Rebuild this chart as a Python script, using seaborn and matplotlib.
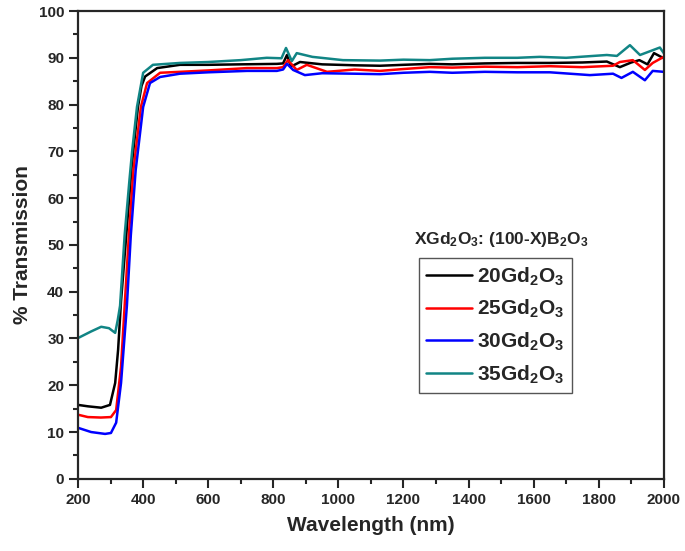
import numpy as np
import pandas as pd
import matplotlib
matplotlib.use("Agg")
import matplotlib.pyplot as plt
import seaborn as sns
from matplotlib.ticker import MultipleLocator

# sample names and colours
labels = ['20Gd$_2$O$_3$', '25Gd$_2$O$_3$', '30Gd$_2$O$_3$', '35Gd$_2$O$_3$']
colors = ['#000000', '#ff0000', '#0000ff', '#118585']

# transmission spectra (wavelength nm, % T)
wl_20 = [200, 230, 271, 298, 314, 323, 332, 348, 365, 384, 395, 406, 443, 513, 600, 700, 811, 830, 842, 854,
         882, 950, 1050, 1128, 1200, 1281, 1350, 1450, 1550, 1650, 1750, 1825, 1865, 1900, 1925, 1950, 1970, 2000]
t_20 = [15.8, 15.5, 15.2, 15.8, 20.5, 27.6, 38, 52, 67, 79.5, 84, 86, 87.8, 88.5, 88.5, 88.6, 88.7, 88.8, 90.6, 88.1,
        89.1, 88.6, 88.4, 88.3, 88.5, 88.7, 88.6, 88.8, 88.9, 88.9, 89.0, 89.2, 88.0, 89.0, 89.5, 88.6, 91.0, 89.9]

wl_25 = [200, 230, 270, 301, 317, 332, 344, 356, 370, 393, 412, 452, 513, 600, 719, 811, 830, 845, 872, 903,
         965, 1050, 1128, 1200, 1281, 1350, 1450, 1550, 1650, 1750, 1844, 1865, 1905, 1942, 1966, 2000]
t_25 = [13.7, 13.2, 13.1, 13.2, 14.7, 24, 38, 52, 66, 79.5, 84.6, 86.8, 87.0, 87.3, 87.8, 87.8, 88.0, 89.5, 87.4, 88.5,
        87.0, 87.5, 87.2, 87.6, 88.0, 87.9, 88.1, 88.0, 88.2, 88.0, 88.3, 89.1, 89.5, 87.4, 88.9, 90.2]

wl_30 = [200, 240, 283, 301, 317, 332, 350, 362, 377, 400, 421, 452, 513, 600, 719, 811, 830, 842, 861, 897,
         950, 1050, 1128, 1200, 1281, 1350, 1450, 1550, 1650, 1773, 1844, 1870, 1905, 1942, 1966, 2000]
t_30 = [10.9, 10.0, 9.6, 9.8, 12, 20.5, 37, 52, 66, 79.5, 84.6, 85.9, 86.6, 86.9, 87.2, 87.2, 87.5, 88.7, 87.4, 86.3,
        86.7, 86.6, 86.5, 86.8, 87.0, 86.8, 87.0, 86.9, 86.9, 86.3, 86.6, 85.7, 87.0, 85.2, 87.2, 87.0]

wl_35 = [200, 240, 271, 295, 314, 322, 329, 343, 358, 366, 381, 400, 430, 513, 600, 700, 780, 825, 839, 857,
         872, 920, 1014, 1128, 1200, 1281, 1350, 1450, 1550, 1619, 1700, 1825, 1856, 1896, 1927, 1969, 1988, 2000]
t_35 = [30.1, 31.5, 32.5, 32.2, 31.2, 34, 37, 52, 64, 70, 79.5, 86.8, 88.5, 88.9, 89.1, 89.5, 90.0, 89.9, 92.1, 89.3,
        91.0, 90.2, 89.5, 89.4, 89.6, 89.5, 89.8, 90.0, 90.0, 90.2, 90.0, 90.6, 90.4, 92.7, 90.6, 91.7, 92.2, 91.0]

frames = []
for lab, w, t in zip(labels, [wl_20, wl_25, wl_30, wl_35], [t_20, t_25, t_30, t_35]):
    frames.append(pd.DataFrame({'wl': w, 'T': t, 'sample': lab}))
df = pd.concat(frames, ignore_index=True)

sns.set_style('ticks')
plt.rcParams['font.family'] = ['Liberation Sans', 'DejaVu Sans']
plt.rcParams['font.weight'] = 'bold'
plt.rcParams['mathtext.default'] = 'regular'

fig = plt.figure(figsize=(6.85, 5.51), dpi=100)
ax = fig.add_axes([0.114, 0.131, 0.855, 0.849])

sns.lineplot(data=df, x='wl', y='T', hue='sample', palette=dict(zip(labels, colors)),
             estimator=None, sort=False, linewidth=1.8, legend=False, ax=ax)

ax.set_xlim(200, 2000)
ax.set_ylim(0, 100)
ax.xaxis.set_major_locator(MultipleLocator(200))
ax.xaxis.set_minor_locator(MultipleLocator(100))
ax.yaxis.set_major_locator(MultipleLocator(10))
ax.yaxis.set_minor_locator(MultipleLocator(5))
ax.tick_params(which='major', direction='out', length=6.5, width=1.5, labelsize=11)
ax.tick_params(which='minor', direction='out', length=3.5, width=1.5)
for s in ax.spines.values():
    s.set_linewidth(1.6)
    s.set_visible(True)
for lab in ax.get_xticklabels() + ax.get_yticklabels():
    lab.set_fontweight('bold')

ax.set_xlabel('Wavelength (nm)', fontsize=15, fontweight='bold', labelpad=7)
ax.set_ylabel('% Transmission', fontsize=15, fontweight='bold', labelpad=5)

ax.text(0.722, 0.511, 'XGd$_2$O$_3$: (100-X)B$_2$O$_3$', transform=ax.transAxes,
        ha='center', va='center', fontsize=12.5, fontweight='bold')

handles = ax.lines[:4]
leg = ax.legend(handles, labels, loc='upper left', bbox_to_anchor=(0.582, 0.472),
                prop={'size': 15, 'weight': 'bold'}, handlelength=2.2, handletextpad=0.25,
                labelspacing=0.5, borderpad=0.35, borderaxespad=0, fancybox=False, framealpha=1,
                edgecolor='#555555')
leg.get_frame().set_linewidth(1.0)

fig.savefig('out.png', dpi=100)
